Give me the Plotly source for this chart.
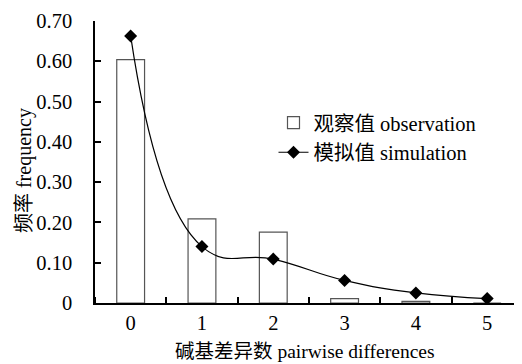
import plotly.graph_objects as go

categories = [0, 1, 2, 3, 4, 5]
observation = [0.604, 0.209, 0.176, 0.011, 0.004, 0.0]
simulation = [0.663, 0.140, 0.109, 0.056, 0.025, 0.011]
y_ticks = [0, 0.1, 0.2, 0.3, 0.4, 0.5, 0.6, 0.7]
y_ticktext = ["0", "0.10", "0.20", "0.30", "0.40", "0.50", "0.60", "0.70"]
x_title = "碱基差异数 pairwise differences"
y_title = "频率 frequency"

FONT = "Liberation Serif, Times New Roman, Noto Sans CJK SC, serif"

fig = go.Figure()
fig.add_trace(go.Bar(
    x=categories, y=observation, name="观察值 observation",
    width=0.39, marker=dict(color="white", line=dict(color="#555555", width=1.2)),
))
fig.add_trace(go.Scatter(
    x=categories, y=simulation, name="模拟值 simulation", mode="lines+markers",
    line=dict(color="black", width=1.2, shape="spline", smoothing=1.3),
    marker=dict(symbol="diamond", size=10, color="black"),
))

fig.add_annotation(
    text=x_title, xref="paper", yref="paper", x=0.1835, y=-0.127,
    xanchor="left", yanchor="top", showarrow=False,
    font=dict(family=FONT, size=19.5, color="black"),
)
fig.add_annotation(
    text=y_title, xref="paper", yref="paper", x=-0.167, y=0.468,
    xanchor="center", yanchor="middle", textangle=-90, showarrow=False,
    font=dict(family=FONT, size=20, color="black"),
)

fig.update_layout(
    width=522, height=364,
    margin=dict(l=87, r=10, t=13, b=69, autoexpand=False),
    plot_bgcolor="white", paper_bgcolor="white",
    font=dict(family=FONT, size=20.5, color="black"),
    showlegend=True,
    legend=dict(x=0.42, y=0.71, xanchor="left", yanchor="top",
                bgcolor="rgba(0,0,0,0)", font=dict(size=20.5), tracegroupgap=0,
                itemwidth=30),
    xaxis=dict(
        range=[-0.5, 5.46], tickmode="array", tickvals=categories,
        ticktext=[str(c) for c in categories], ticks="",
        showline=True, linecolor="black", linewidth=1.5, showgrid=False, zeroline=False,
        minor=dict(tickmode="linear", tick0=0.5, dtick=1, ticks="inside",
                   ticklen=6, tickcolor="black", tickwidth=1.5, showgrid=False),
        ticklabelstandoff=1,
    ),
    yaxis=dict(
        range=[0, 0.70], tickmode="array", tickvals=y_ticks, ticktext=y_ticktext,
        ticks="inside", ticklen=6, tickcolor="black", tickwidth=1.5,
        showline=True, linecolor="black", linewidth=1.5, showgrid=False, zeroline=False,
        ticklabelstandoff=17,
    ),
)

fig.write_html("out.html")
